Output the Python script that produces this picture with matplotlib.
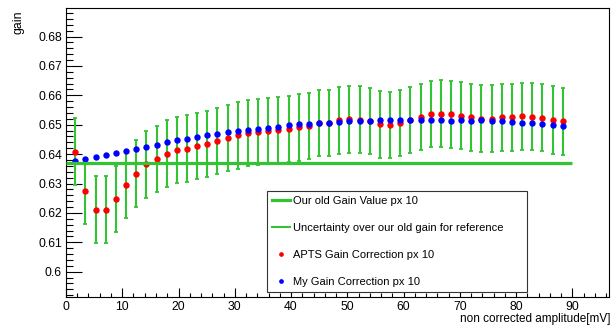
"""Gain correction vs. amplitude for pixel 10: old gain value, APTS and own correction."""

import matplotlib

matplotlib.use("Agg")
import matplotlib.pyplot as plt
from matplotlib.lines import Line2D
from matplotlib.ticker import FormatStrFormatter, MultipleLocator

plt.rcParams["font.family"] = ["Liberation Sans", "DejaVu Sans"]

GREEN = "#33c433"
RED = "#ff0000"
BLUE = "#0000ff"

# amplitude bins [mV]
amplitude = [
    1.65, 3.46, 5.26, 7.07, 8.87, 10.68, 12.48, 14.29, 16.09, 17.90,
    19.70, 21.51, 23.31, 25.12, 26.92, 28.73, 30.53, 32.34, 34.14, 35.95,
    37.75, 39.56, 41.36, 43.17, 44.97, 46.78, 48.58, 50.39, 52.19, 54.00,
    55.80, 57.61, 59.41, 61.22, 63.02, 64.83, 66.63, 68.44, 70.24, 72.05,
    73.85, 75.66, 77.46, 79.27, 81.07, 82.88, 84.68, 86.49, 88.29,
]

apts_gain = [
    0.6408, 0.6273, 0.6211, 0.6211, 0.6247, 0.6294, 0.6334, 0.6365, 0.6384, 0.6402,
    0.6414, 0.6419, 0.6428, 0.6435, 0.6444, 0.6454, 0.6464, 0.6471, 0.6476, 0.6479,
    0.6482, 0.6485, 0.6491, 0.6496, 0.6505, 0.6506, 0.6515, 0.6518, 0.6517, 0.6512,
    0.6501, 0.6499, 0.6505, 0.6516, 0.6527, 0.6536, 0.6538, 0.6535, 0.6530, 0.6525,
    0.6521, 0.6520, 0.6525, 0.6525, 0.6528, 0.6527, 0.6523, 0.6516, 0.6511,
]

my_gain = [
    0.6377, 0.6382, 0.6391, 0.6398, 0.6403, 0.6411, 0.6417, 0.6424, 0.6432, 0.6441,
    0.6447, 0.6452, 0.6458, 0.6465, 0.6469, 0.6474, 0.6478, 0.6483, 0.6485, 0.6488,
    0.6493, 0.6498, 0.6501, 0.6504, 0.6506, 0.6507, 0.6509, 0.6511, 0.6512, 0.6513,
    0.6515, 0.6517, 0.6517, 0.6516, 0.6517, 0.6516, 0.6516, 0.6513, 0.6515, 0.6514,
    0.6515, 0.6511, 0.6512, 0.6509, 0.6505, 0.6505, 0.6503, 0.6500, 0.6496,
]

# uncertainty of the old gain, drawn around the APTS points
old_gain_err = [
    0.0114, 0.0111, 0.0114, 0.0114, 0.0113, 0.0113, 0.0113, 0.0113, 0.0113, 0.0113,
    0.0113, 0.0113, 0.0113, 0.0113, 0.0113, 0.0113, 0.0113, 0.0113, 0.0113, 0.0113,
    0.0113, 0.0113, 0.0113, 0.0113, 0.0113, 0.0113, 0.0113, 0.0113, 0.0113, 0.0113,
    0.0113, 0.0113, 0.0113, 0.0113, 0.0113, 0.0113, 0.0113, 0.0113, 0.0114, 0.0114,
    0.0114, 0.0114, 0.0114, 0.0114, 0.0114, 0.0114, 0.0114, 0.0114, 0.0115,
]

old_gain = 0.6369
old_gain_range = [0.0, 90.0]

fig = plt.figure(figsize=(6.12, 3.25), dpi=100)
ax = fig.add_axes([0.1078, 0.0862, 0.8872, 0.8892])

ax.errorbar(amplitude, apts_gain, yerr=old_gain_err, fmt="none", ecolor=GREEN,
            elinewidth=1.5, capsize=1.6, capthick=1.3, zorder=2)
ax.plot(amplitude, apts_gain, "o", color=RED, ms=4.6, mew=0, zorder=3)
ax.plot(amplitude, my_gain, "o", color=BLUE, ms=4.6, mew=0, zorder=4)
ax.plot(old_gain_range, [old_gain, old_gain], color=GREEN, lw=2.3,
        solid_capstyle="butt", zorder=5)

ax.set_xlim(0, 96.5)
ax.set_ylim(0.5914, 0.6897)

ax.xaxis.set_major_locator(MultipleLocator(10))
ax.xaxis.set_minor_locator(MultipleLocator(2))
ax.yaxis.set_major_locator(MultipleLocator(0.01))
ax.yaxis.set_minor_locator(MultipleLocator(0.002))
ax.yaxis.set_major_formatter(FormatStrFormatter("%g"))

ax.tick_params(which="both", direction="in", top=False, right=False,
               labelsize=8.8, width=0.8, colors="black")
ax.tick_params(axis="x", which="major", length=6.3, pad=2.8)
ax.tick_params(axis="x", which="minor", length=3.1)
ax.tick_params(axis="y", which="major", length=11.3, pad=2.9)
ax.tick_params(axis="y", which="minor", length=5.3)
for spine in ax.spines.values():
    spine.set_linewidth(0.8)

fig.text(0.030, 0.969, "gain", rotation=90, ha="center", va="top", fontsize=8.8)
fig.text(0.998, 0.010, "non corrected amplitude[mV]", ha="right",
         va="baseline", fontsize=8.5)

handles = [
    Line2D([], [], color=GREEN, lw=2.3),
    Line2D([], [], color=GREEN, lw=1.5),
    Line2D([], [], ls="none", marker="o", color=RED, ms=3.4, mew=0),
    Line2D([], [], ls="none", marker="o", color=BLUE, ms=3.4, mew=0),
]
labels = [
    "Our old Gain Value px 10",
    "Uncertainty over our old gain for reference",
    "APTS Gain Correction px 10",
    "My Gain Correction px 10",
]
leg = ax.legend(handles, labels, loc="upper left",
                bbox_to_anchor=(0.370, 0.0104, 0.479, 0.3566), mode="expand",
                borderaxespad=0, fontsize=8, frameon=True, fancybox=False,
                framealpha=1, edgecolor="#333333", borderpad=0.42,
                handlelength=1.7, handletextpad=0.2, labelspacing=1.55)
leg.get_frame().set_linewidth(0.8)

fig.savefig("out.png", dpi=100)
plt.close(fig)
